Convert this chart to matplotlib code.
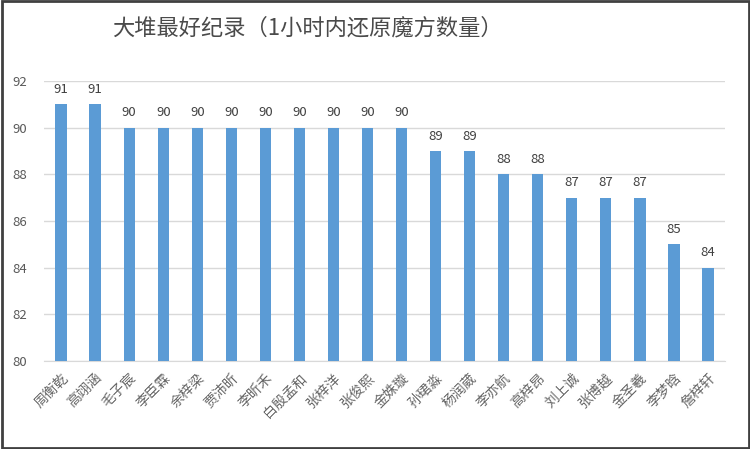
import matplotlib
matplotlib.use('Agg')
import matplotlib.pyplot as plt
from matplotlib.patches import Rectangle

plt.rcParams['font.family'] = ['Noto Sans CJK SC', 'DejaVu Sans']

# data
names = ['周衡乾', '高翊涵', '毛子宸', '李臣霖', '余梓梁', '贾沛昕', '李昕禾',
         '白殷孟和', '张梓洋', '张俊熙', '金姝璇', '孙珺淼', '杨润葳', '李亦航',
         '高梓昂', '刘上诚', '张博越', '金圣羲', '李梦晗', '詹梓轩']
scores = [91, 91, 90, 90, 90, 90, 90, 90, 90, 90, 90, 89, 89, 88, 88, 87, 87, 87, 85, 84]
y_ticks = [80, 82, 84, 86, 88, 90, 92]
title = '大堆最好纪录（1小时内还原魔方数量）'

fig = plt.figure(figsize=(7.5, 4.49), dpi=100)
ax = fig.add_axes([0.0587, 0.196, 0.908, 0.6236])

x = list(range(len(names)))
bars = ax.bar(x, scores, width=0.33, color='#5B9BD5', zorder=3)
ax.bar_label(bars, labels=[str(v) for v in scores], padding=6,
             fontsize=9.5, color='#404040')

ax.set_xlim(-0.5, len(names) - 0.5)
ax.set_ylim(80, 92)
ax.set_yticks(y_ticks)
ax.set_yticklabels([str(t) for t in y_ticks], fontsize=9.5, color='#595959')
ax.set_xticks(x)
ax.set_xticklabels(names, rotation=45, ha='right', rotation_mode='anchor',
                   fontsize=10, color='#666666')
ax.tick_params(axis='both', length=0)
ax.tick_params(axis='y', pad=12)
ax.tick_params(axis='x', pad=7)
ax.grid(axis='y', color='#D9D9D9', linewidth=1, zorder=0)
for s in ax.spines.values():
    s.set_visible(False)
ax.spines['bottom'].set_visible(True)
ax.spines['bottom'].set_color('#D9D9D9')

fig.text(307 / 750, 1 - 28 / 449, title, ha='center', va='center',
         fontsize=16, color='#4a4a4a')

# outer frame
fig.patches.append(Rectangle((0.002, 0.003), 0.996, 0.994, transform=fig.transFigure,
                             fill=False, edgecolor='#404040', linewidth=2))

fig.savefig('out.png', dpi=100, facecolor='white')
